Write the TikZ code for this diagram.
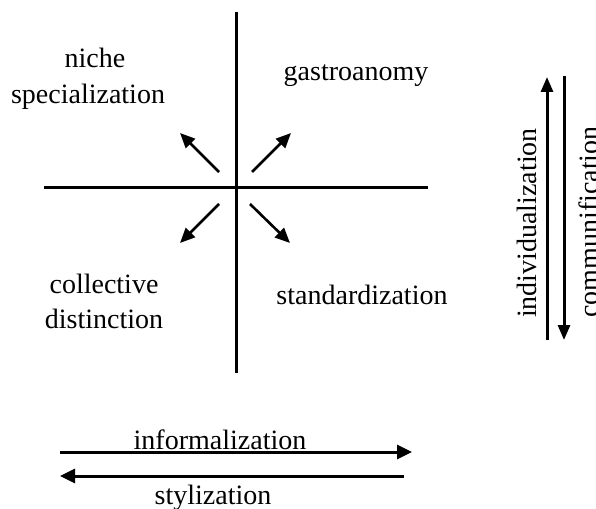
\documentclass[tikz,border=0pt]{standalone}
\usepackage{fontspec}
\setmainfont{Liberation Serif}
\usetikzlibrary{arrows.meta}
\begin{document}
\begin{tikzpicture}[x=1bp,y=-1bp,
  lbl/.style={inner sep=0pt,anchor=base,font=\fontsize{28bp}{35bp}\selectfont},
  axis/.style={line width=3bp},
  diag/.style={line width=2.6bp,-{Triangle[length=15bp,width=13bp]}},
  flow/.style={line width=3bp,-{Triangle[length=15bp,width=14bp]}},
  vflow/.style={line width=3bp,-{Triangle[length=15bp,width=12bp]}}]
\useasboundingbox (0,0) rectangle (596,509);
% axes
\coordinate (vt) at (236,12);
\coordinate (vb) at (236,373);
\coordinate (hl) at (44,188);
\coordinate (hr) at (428,188);
\draw[axis] (vt) -- (vb);
\draw[axis] (hl) -- (hr);
% diagonal arrows
\coordinate (nwA) at (219,172); \coordinate (nwB) at (180,133);
\coordinate (neA) at (252,172); \coordinate (neB) at (291,133);
\coordinate (swA) at (219,204); \coordinate (swB) at (180,243);
\coordinate (seA) at (250,204); \coordinate (seB) at (290,243);
\draw[diag] (nwA) -- (nwB);
\draw[diag] (neA) -- (neB);
\draw[diag] (swA) -- (swB);
\draw[diag] (seA) -- (seB);
% quadrant labels
\node[lbl] (niche) at (95,68) {niche};
\node[lbl] (spec) at (88,104) {specialization};
\node[lbl] (gastro) at (356,81) {gastroanomy};
\node[lbl] (coll) at (104,293) {collective};
\node[lbl] (dist) at (104,328) {distinction};
\node[lbl] (stand) at (362,304) {standardization};
% vertical arrows
\coordinate (upB) at (547,340); \coordinate (upT) at (547,77);
\coordinate (dnT) at (564,76); \coordinate (dnB) at (564,340);
\draw[vflow] (upB) -- (upT);
\draw[vflow] (dnT) -- (dnB);
\node[lbl,rotate=90] (indiv) at (536,223) {individualization};
\node[lbl,rotate=90] (commu) at (598,222) {communification};
% horizontal arrows
\coordinate (inL) at (60,452); \coordinate (inR) at (412,452);
\coordinate (stR) at (404,476); \coordinate (stL) at (60,476);
\draw[flow] (inL) -- (inR);
\draw[flow] (stR) -- (stL);
\node[lbl] (inform) at (220,449) {informalization};
\node[lbl] (styl) at (213,504) {stylization};
\end{tikzpicture}
\end{document}
